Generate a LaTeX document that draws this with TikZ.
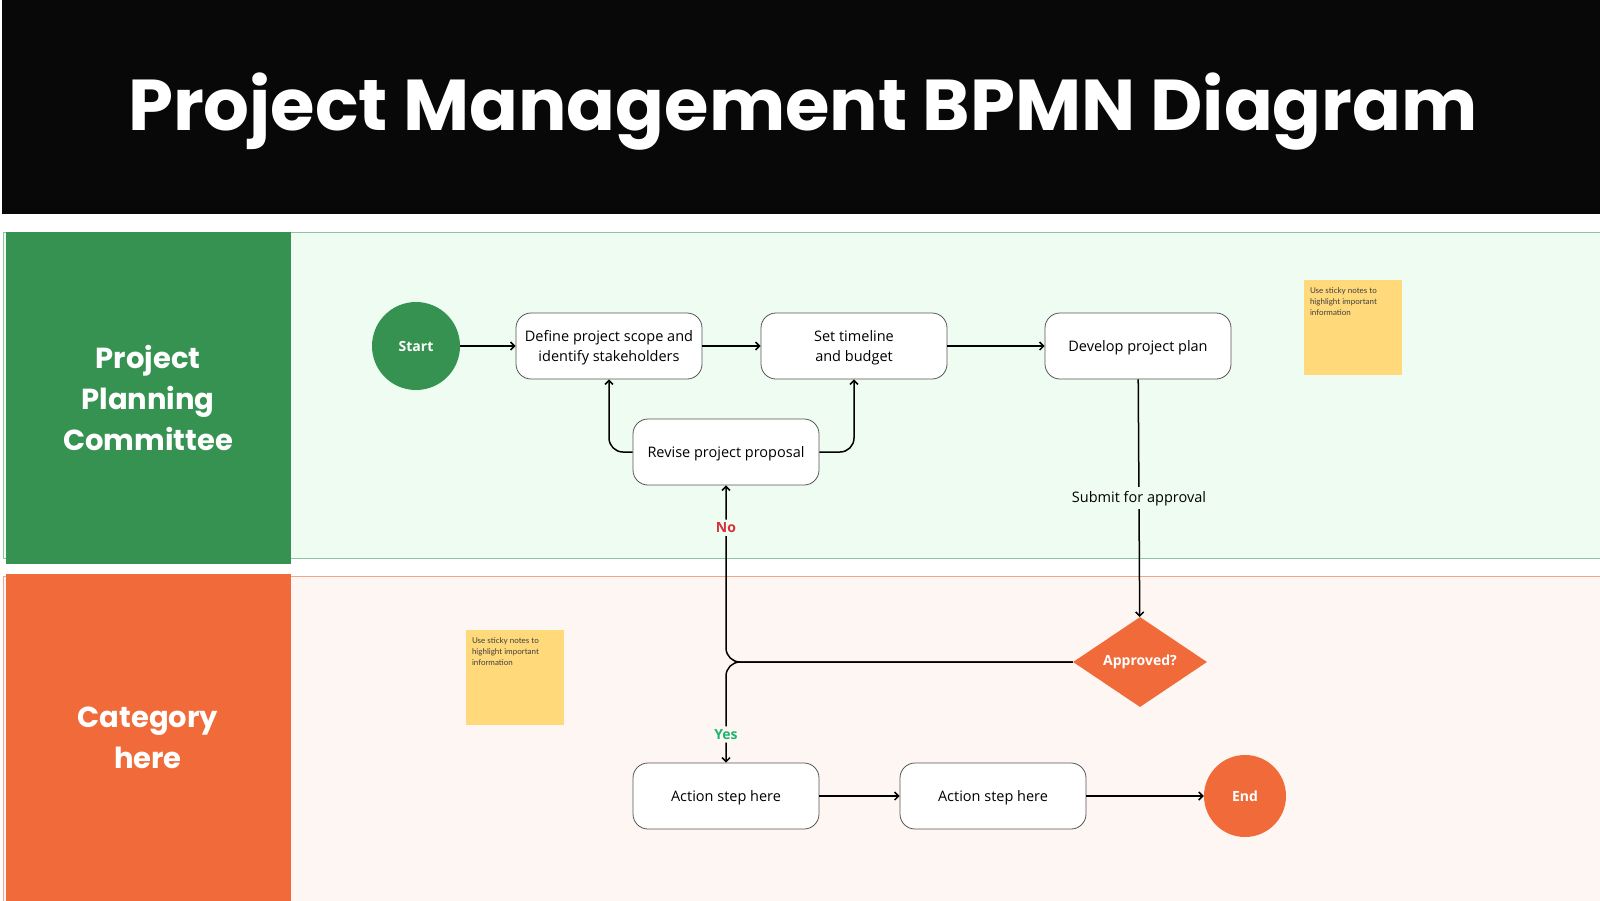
\documentclass[tikz,border=0pt]{standalone}
\usepackage{fontspec}
\setmainfont{Open Sans}
\newfontfamily\headfont{Poppins}
\newfontfamily\notefont{Lato}
\usetikzlibrary{shapes.geometric,arrows.meta}
\definecolor{ink}{HTML}{080808}
\definecolor{green}{HTML}{359250}
\definecolor{orange}{HTML}{F06A3A}
\definecolor{mint}{HTML}{EEFCF1}
\definecolor{peach}{HTML}{FEF6F3}
\definecolor{sticky}{HTML}{FFD97A}
\definecolor{red}{HTML}{D8303A}
\definecolor{teal}{HTML}{1DB56F}
\definecolor{gray}{HTML}{555555}
\tikzset{
  task/.style={draw=gray,fill=white,line width=.8pt,rounded corners=15pt,
    minimum width=186pt,minimum height=66pt,align=center,text depth=-2pt,
    font=\fontsize{14.5}{20}\selectfont},
  event/.style={circle,text=white,font=\bfseries\fontsize{14}{17}\selectfont},
  gate/.style={diamond,aspect=1.5,fill=orange,text=white,inner sep=0pt,
    minimum width=134pt,minimum height=90pt,font=\bfseries\fontsize{14}{17}\selectfont},
  flow/.style={line width=1.5pt,-{Straight Barb[length=4pt,width=8pt]}},
  lanehead/.style={text=white,align=center,
    font=\headfont\bfseries\fontsize{29}{41}\selectfont},
  note/.style={fill=sticky,minimum width=98pt,minimum height=95pt,inner sep=0pt},
  notetext/.style={anchor=north west,align=left,inner sep=0pt,text=black!75,
    font=\notefont\fontsize{8}{11}\selectfont}
}
\begin{document}
\begin{tikzpicture}[x=1pt,y=-1pt]
  \useasboundingbox (0,0) rectangle (1600,900);
  % title bar
  \fill[ink] (2,0) rectangle (1600,214);
  \node[text=white,font=\headfont\bfseries\fontsize{72}{80}\selectfont] (title) at (803,112) {Project Management BPMN Diagram};
  % lanes
  \draw[green!55,fill=mint] (3,232) rectangle (1606,558);
  \fill[green] (6,232) rectangle (291,564);
  \draw[orange!60,fill=peach] (3,576) rectangle (1606,906);
  \fill[orange] (6,574) rectangle (291,906);
  \node[lanehead] (lane1) at (148,398) {Project\\Planning\\Committee};
  \node[lanehead] (lane2) at (148,738) {Category\\here};
  % sticky notes
  \node[note] (note1) at (1353,327) {};
  \node[notetext] (note1txt) at ([shift={(6,8)}]note1.north west) {Use sticky notes to\\highlight important\\information};
  \node[note] (note2) at (515,677) {};
  \node[notetext] (note2txt) at ([shift={(6,8)}]note2.north west) {Use sticky notes to\\highlight important\\information};
  % nodes
  \node[event,fill=green,minimum size=88pt] (start) at (416,346) {Start};
  \node[task] (scope) at (609,346) {Define project scope and\\identify stakeholders};
  \node[task] (budget) at (854,346) {Set timeline\\and budget};
  \node[task] (plan) at (1138,346) {Develop project plan};
  \node[task] (revise) at (726,452) {Revise project proposal};
  \node[gate] (approve) at (1140,662) {Approved?};
  \node[task] (act1) at (726,796) {Action step here};
  \node[task] (act2) at (993,796) {Action step here};
  \node[event,fill=orange,minimum size=82pt] (end) at (1245,796) {End};
  % flows
  \draw[flow] (start) -- (scope);
  \draw[flow] (scope) -- (budget);
  \draw[flow] (budget) -- (plan);
  \draw[flow] (plan) -- node[fill=mint,inner sep=4pt,font=\fontsize{14.5}{17}\selectfont] (submit) {Submit for approval} (approve);
  \draw[flow,rounded corners=14pt] (approve.west) -| node[pos=.88,fill=mint,text=red,inner sep=3pt,font=\bfseries\fontsize{14}{17}\selectfont] (no) {No} (revise.south);
  \draw[flow,rounded corners=14pt] (approve.west) -| node[pos=.86,fill=peach,text=teal,inner sep=3pt,font=\bfseries\fontsize{14}{17}\selectfont] (yes) {Yes} (act1.north);
  \draw[flow,rounded corners=14pt] (revise.west) -| (scope.south);
  \draw[flow,rounded corners=14pt] (revise.east) -| (budget.south);
  \draw[flow] (act1) -- (act2);
  \draw[flow] (act2) -- (end);
\end{tikzpicture}
\end{document}
